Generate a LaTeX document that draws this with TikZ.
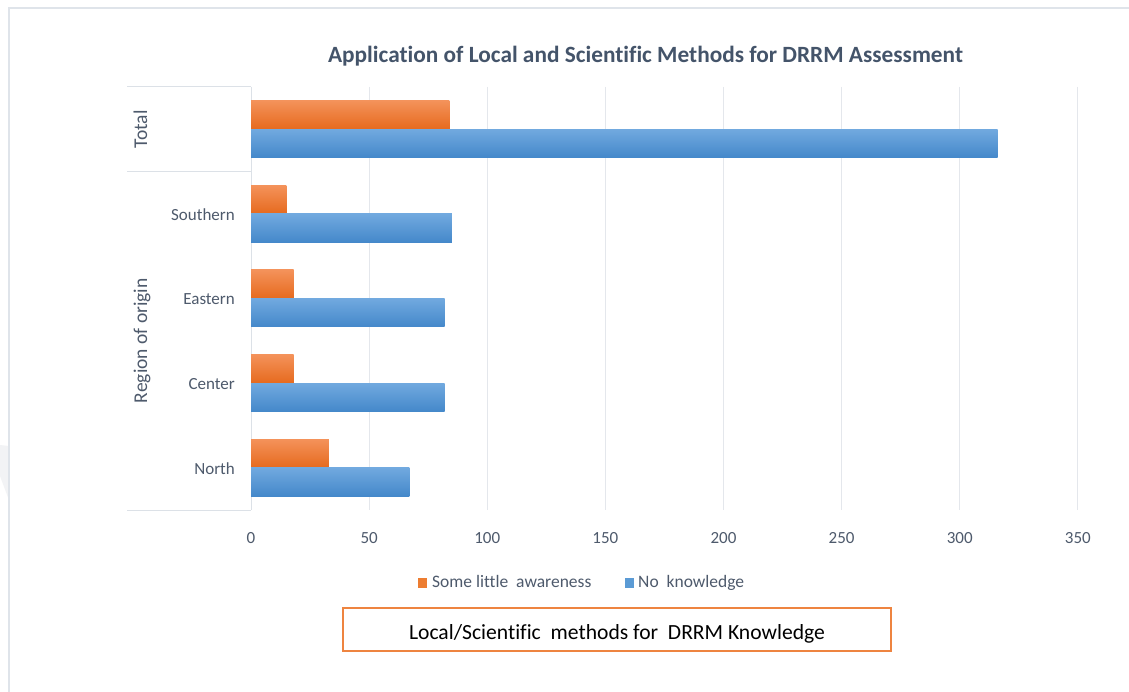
\documentclass[tikz,border=0pt]{standalone}
\usepackage{fontspec}
\setmainfont[Ligatures=NoCommon]{Carlito}
\definecolor{frameC}{HTML}{DFE4EA}
\definecolor{gridC}{HTML}{E4E7EC}
\definecolor{axisC}{HTML}{DCE1E7}
\definecolor{titleC}{HTML}{44546A}
\definecolor{labC}{HTML}{4E5A6C}
\definecolor{orTop}{HTML}{F4925A}
\definecolor{orBot}{HTML}{E66A1E}
\definecolor{blTop}{HTML}{71A9DF}
\definecolor{blBot}{HTML}{4488CA}
\definecolor{orLeg}{HTML}{ED7D31}
\definecolor{blLeg}{HTML}{5B9BD5}
\definecolor{boxC}{HTML}{EE8440}
\definecolor{wmC}{HTML}{F2F3F5}
\begin{document}
\begin{tikzpicture}[x=1pt,y=-1pt,
  catlab/.style={anchor=base east, text=labC, font=\fontsize{17}{20}\selectfont, inner sep=0pt},
  ticklab/.style={anchor=base, text=labC, font=\fontsize{17}{20}\selectfont, inner sep=0pt},
  rotlab/.style={anchor=base, rotate=90, text=labC, font=\fontsize{19.5}{22}\selectfont, inner sep=0pt},
  leglab/.style={anchor=base west, text=labC, font=\fontsize{17.5}{20}\selectfont, inner sep=0pt},
  gridline/.style={draw=gridC, line width=1pt},
  sepline/.style={draw=axisC, line width=1pt},
  orbar/.style={top color=orTop, bottom color=orBot},
  blbar/.style={top color=blTop, bottom color=blBot}]
\useasboundingbox (0,0) rectangle (1129,692);
\fill[white] (0,0) rectangle (1129,692);
% faint watermark
\fill[wmC] (0,445) -- (9,446) -- (9,500) -- (0,476) -- cycle;
% frame
\draw[frameC, line width=2pt] (9,692) -- (9,8) -- (1129,8);
% title
\node[anchor=base, text=titleC, font=\fontsize{23.3}{26}\selectfont\bfseries, inner sep=0pt] (title) at (645.5,63) {Application of Local and Scientific Methods for DRRM Assessment};
% gridlines
\foreach \v in {50,100,...,350} {
  \draw[gridline] ({251+\v*2.3623},87) -- ({251+\v*2.3623},510);
}
% axis and separators
\draw[sepline] (251,87) -- (251,510);
\draw[sepline] (127,87) -- (251,87);
\draw[sepline] (127,171.6) -- (251,171.6);
\draw[sepline] (127,510) -- (251,510);
% bars
\foreach \i/\o/\b in {0/84/316,1/15/85,2/18/82,3/18/82,4/33/67} {
  \pgfmathsetmacro\c{87+84.6*(\i+0.5)}
  \shade[orbar] (251,{\c-28.5}) rectangle ({251+\o*2.3623},\c);
  \shade[blbar] (251,\c) rectangle ({251+\b*2.3623},{\c+28.5});
}
% category labels
\node[catlab] (southern) at (235,220.4) {Southern};
\node[catlab] (eastern) at (235,305) {Eastern};
\node[catlab] (center) at (235,389.6) {Center};
\node[catlab] (north) at (235,474.2) {North};
\node[rotlab] (total) at (147,129.3) {Total};
\node[rotlab] (region) at (147,340.8) {Region of origin};
% tick labels
\foreach \v in {0,50,...,350} {
  \node[ticklab] (t\v) at ({251+\v*2.3623},543.3) {\v};
}
% legend
\fill[orLeg] (418,577.5) rectangle (427,587.5);
\node[leglab] (leg1) at (432,587.3) {Some little\ \ awareness};
\fill[blLeg] (625,577.5) rectangle (634,587.5);
\node[leglab] (leg2) at (638,587.3) {No\ \ knowledge};
% bottom box
\draw[boxC, line width=1.6pt] (343,608) rectangle (891,651);
\node[anchor=base, text=black, font=\fontsize{21.6}{26}\selectfont, inner sep=0pt] (boxtext) at (617,639) {Local/Scientific\ \ methods for\ \ DRRM Knowledge};
\end{tikzpicture}
\end{document}
